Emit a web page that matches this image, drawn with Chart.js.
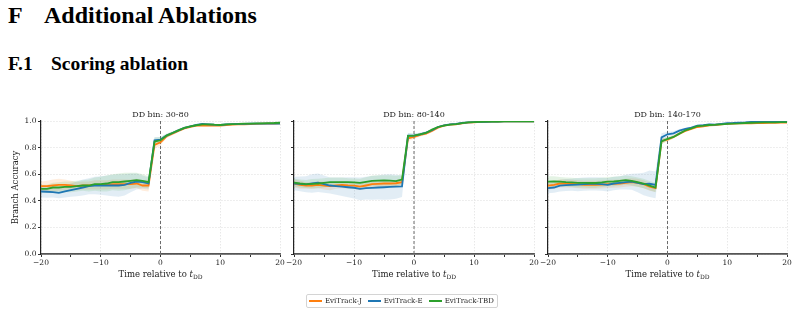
<!DOCTYPE html>
<html>
<head>
<meta charset="utf-8">
<script src="https://cdn.jsdelivr.net/npm/chart.js@4.4.1/dist/chart.umd.min.js"></script>
<style>
  body { margin: 0; width: 798px; height: 315px; background: #fff; position: relative; overflow: hidden; }
  .head { position: absolute; left: 8px; font-family: "Liberation Serif", serif; font-weight: bold; color: #000; white-space: pre; }
  #h1 { top: 3px; font-size: 24px; line-height: 24px; }
  #h2 { top: 54px; font-size: 19.5px; line-height: 19px; }
  canvas { position: absolute; }
  #legend { position: absolute; left: 306px; top: 294px; width: 192px; height: 14px; box-sizing: border-box;
            border: 1px solid #d4d4d4; border-radius: 2px; display: flex; align-items: center; padding-left: 2px;
            font-family: "DejaVu Serif", serif; font-size: 7px; color: #222; white-space: nowrap; }
  #legend .item { display: flex; align-items: center; margin-right: 6px; flex-shrink: 0; }
  #legend .swatch { width: 13px; height: 2px; margin-right: 3px; flex-shrink: 0; }
</style>
</head>
<body>
<div class="head" id="h1"><span>F</span><span style="position:absolute;left:36px">Additional Ablations</span></div>
<div class="head" id="h2"><span>F.1</span><span style="position:absolute;left:43px">Scoring ablation</span></div>

<canvas id="c1" width="290" height="185" style="left:0;top:100px"></canvas>
<canvas id="c2" width="264" height="185" style="left:280px;top:100px"></canvas>
<canvas id="c3" width="264" height="185" style="left:534px;top:100px"></canvas>

<div id="legend">
  <div class="item"><div class="swatch" style="background:#ff7f0e"></div>EviTrack-J</div>
  <div class="item"><div class="swatch" style="background:#1f77b4"></div>EviTrack-E</div>
  <div class="item"><div class="swatch" style="background:#2ca02c"></div>EviTrack-TBD</div>
</div>

<script>
// time steps relative to t_DD
var time = [-20,-19,-18,-17,-16,-15,-14,-13,-12,-11,-10,-9,-8,-7,-6,-5,-4,-3,-2,-1,0,
            1,2,3,4,5,6,7,8,9,10,11,12,13,14,15,16,17,18,19,20];

var binTitles = ['DD bin: 30-80', 'DD bin: 80-140', 'DD bin: 140-170'];
var seriesNames = ['EviTrack-J', 'EviTrack-E', 'EviTrack-TBD'];

// DD bin 30-80
var j1 = [0.51,0.51,0.515,0.52,0.52,0.515,0.51,0.515,0.515,0.52,0.52,0.52,0.525,0.525,0.525,0.525,0.53,0.515,0.515,
          0.82,0.84,0.885,0.905,0.925,0.945,0.955,0.965,0.965,0.965,0.965,0.965,0.97,0.972,0.975,0.975,0.977,0.978,0.98,0.98,0.98,0.982];
var e1 = [0.47,0.468,0.465,0.46,0.47,0.48,0.49,0.50,0.51,0.515,0.515,0.515,0.515,0.515,0.52,0.535,0.545,0.54,0.53,
          0.855,0.86,0.89,0.91,0.93,0.948,0.96,0.97,0.978,0.975,0.972,0.97,0.975,0.977,0.978,0.978,0.98,0.98,0.98,0.98,0.98,0.98];
var g1 = [0.49,0.49,0.50,0.50,0.505,0.505,0.51,0.515,0.515,0.525,0.525,0.53,0.54,0.54,0.545,0.55,0.555,0.55,0.54,
          0.845,0.855,0.89,0.91,0.93,0.948,0.96,0.968,0.975,0.975,0.972,0.97,0.975,0.977,0.978,0.98,0.98,0.982,0.982,0.984,0.985,0.987];
var sdJ1 = [0.035,0.04,0.045,0.045,0.04,0.035,0.03,0.03,0.03,0.035,0.035,0.035,0.035,0.035,0.035,0.035,0.035,0.04,0.045,
            0.03,0.025,0.015,0.012,0.01,0.008,0.007,0.006,0.006,0.006,0.005,0.005,0.005,0.005,0.004,0.004,0.004,0.004,0.004,0.004,0.004,0.004];
var sdE1 = [0.045,0.045,0.04,0.04,0.045,0.05,0.055,0.06,0.06,0.065,0.07,0.075,0.08,0.085,0.08,0.07,0.06,0.05,0.045,
            0.025,0.02,0.015,0.01,0.009,0.008,0.007,0.006,0.006,0.006,0.005,0.005,0.005,0.005,0.004,0.004,0.004,0.004,0.004,0.004,0.004,0.004];
var sdG1 = [0.03,0.03,0.035,0.04,0.04,0.04,0.04,0.04,0.045,0.05,0.055,0.06,0.06,0.065,0.065,0.06,0.055,0.05,0.045,
            0.03,0.025,0.015,0.012,0.01,0.008,0.007,0.006,0.006,0.006,0.005,0.005,0.005,0.005,0.004,0.004,0.004,0.004,0.004,0.004,0.004,0.004];

// DD bin 80-140
var j2 = [0.53,0.52,0.515,0.515,0.52,0.515,0.51,0.515,0.52,0.515,0.514,0.506,0.515,0.525,0.528,0.53,0.53,0.532,0.54,
          0.87,0.88,0.895,0.905,0.925,0.95,0.965,0.972,0.975,0.982,0.988,0.99,0.993,0.994,0.995,0.996,0.997,0.997,0.997,0.997,0.998,0.998];
var e2 = [0.53,0.527,0.524,0.53,0.536,0.525,0.515,0.51,0.506,0.502,0.498,0.49,0.495,0.497,0.5,0.502,0.504,0.506,0.508,
          0.89,0.89,0.9,0.912,0.93,0.955,0.968,0.975,0.978,0.985,0.99,0.992,0.995,0.993,0.995,0.996,0.997,0.997,0.998,0.998,0.998,0.998];
var g2 = [0.536,0.53,0.526,0.528,0.53,0.535,0.54,0.54,0.54,0.54,0.538,0.535,0.543,0.55,0.552,0.553,0.552,0.548,0.56,
          0.888,0.89,0.9,0.91,0.935,0.955,0.966,0.973,0.977,0.984,0.99,0.992,0.994,0.995,0.995,0.996,0.997,0.997,0.998,0.998,0.998,0.998];
var sdJ2 = [0.03,0.03,0.025,0.025,0.025,0.03,0.03,0.025,0.025,0.025,0.025,0.025,0.025,0.025,0.025,0.025,0.025,0.025,0.03,
            0.02,0.015,0.012,0.01,0.008,0.007,0.006,0.005,0.005,0.004,0.004,0.003,0.003,0.003,0.003,0.003,0.003,0.003,0.003,0.003,0.003,0.003];
var sdE2 = [0.05,0.055,0.06,0.07,0.07,0.065,0.06,0.065,0.07,0.075,0.08,0.085,0.085,0.09,0.09,0.095,0.095,0.09,0.08,
            0.02,0.015,0.012,0.01,0.008,0.007,0.006,0.005,0.005,0.004,0.004,0.003,0.003,0.003,0.003,0.003,0.003,0.003,0.003,0.003,0.003,0.003];
var sdG2 = [0.03,0.03,0.03,0.035,0.035,0.035,0.035,0.035,0.035,0.03,0.03,0.03,0.035,0.04,0.04,0.04,0.04,0.04,0.035,
            0.02,0.015,0.012,0.01,0.008,0.007,0.006,0.005,0.005,0.004,0.004,0.003,0.003,0.003,0.003,0.003,0.003,0.003,0.003,0.003,0.003,0.003];

// DD bin 140-170
var j3 = [0.514,0.52,0.53,0.53,0.528,0.525,0.52,0.52,0.52,0.522,0.526,0.528,0.53,0.535,0.54,0.535,0.525,0.506,0.496,
          0.85,0.86,0.88,0.905,0.925,0.94,0.955,0.96,0.968,0.97,0.975,0.978,0.98,0.982,0.983,0.983,0.985,0.985,0.986,0.987,0.988,0.988];
var e3 = [0.496,0.50,0.514,0.518,0.52,0.522,0.526,0.527,0.527,0.525,0.52,0.53,0.535,0.54,0.544,0.535,0.526,0.528,0.52,
          0.877,0.9,0.907,0.927,0.94,0.95,0.965,0.968,0.975,0.973,0.978,0.983,0.985,0.988,0.99,0.993,0.993,0.994,0.994,0.995,0.995,0.995];
var g3 = [0.544,0.545,0.544,0.54,0.538,0.535,0.535,0.534,0.534,0.538,0.544,0.545,0.55,0.556,0.55,0.54,0.53,0.514,0.5,
          0.846,0.865,0.88,0.905,0.93,0.945,0.962,0.965,0.97,0.972,0.975,0.978,0.98,0.982,0.985,0.987,0.988,0.99,0.99,0.99,0.991,0.992];
var sdJ3 = [0.03,0.03,0.03,0.03,0.03,0.03,0.03,0.03,0.03,0.03,0.03,0.03,0.03,0.03,0.03,0.03,0.03,0.03,0.03,
            0.02,0.015,0.012,0.01,0.008,0.007,0.006,0.006,0.005,0.005,0.005,0.004,0.004,0.004,0.004,0.004,0.004,0.004,0.004,0.004,0.004,0.004];
var sdE3 = [0.04,0.04,0.045,0.045,0.045,0.05,0.05,0.05,0.05,0.05,0.05,0.05,0.05,0.055,0.06,0.07,0.085,0.1,0.1,
            0.03,0.02,0.015,0.012,0.01,0.008,0.007,0.006,0.006,0.005,0.005,0.005,0.004,0.004,0.004,0.004,0.004,0.004,0.004,0.004,0.004,0.004];
var sdG3 = [0.04,0.04,0.035,0.035,0.035,0.035,0.035,0.035,0.035,0.035,0.035,0.035,0.035,0.035,0.035,0.035,0.035,0.035,0.035,
            0.02,0.015,0.012,0.01,0.008,0.007,0.006,0.006,0.005,0.005,0.005,0.004,0.004,0.004,0.004,0.004,0.004,0.004,0.004,0.004,0.004,0.004];

var lineColors = ['#ff7f0e', '#1f77b4', '#2ca02c'];
var bandColors = ['rgba(255,127,14,0.14)', 'rgba(31,119,180,0.13)', 'rgba(44,160,44,0.13)'];

var serif = '"DejaVu Serif", serif';

function fmtTick(v) {
    return v < 0 ? '\u2212' + Math.abs(v) : String(v);
}

// dashed t_DD marker, panel titles and axis titles
var decor = {
    id: 'decor',
    beforeDatasetsDraw: function(chart) {
        var ctx = chart.ctx, a = chart.chartArea;
        var x0 = chart.scales.x.getPixelForValue(0);
        ctx.save();
        ctx.strokeStyle = '#6b6b6b';
        ctx.lineWidth = 1;
        ctx.setLineDash([3, 2]);
        ctx.beginPath();
        ctx.moveTo(x0, a.top);
        ctx.lineTo(x0, a.bottom);
        ctx.stroke();
        ctx.restore();
    },
    afterDraw: function(chart, args, o) {
        var ctx = chart.ctx, a = chart.chartArea;
        var mid = (a.left + a.right) / 2;
        ctx.save();
        ctx.fillStyle = '#222';
        ctx.textAlign = 'center';
        ctx.textBaseline = 'alphabetic';
        ctx.font = '8px ' + serif;
        ctx.fillText(o.title, mid, a.top - 4);

        // x title: "Time relative to t_DD"
        var base = 176.5;
        ctx.font = '8.5px ' + serif;
        var w1 = ctx.measureText('Time relative to ').width;
        ctx.font = 'italic 8.5px ' + serif;
        var w2 = ctx.measureText('t').width;
        ctx.font = '6px ' + serif;
        var w3 = ctx.measureText('DD').width;
        var x = mid - (w1 + w2 + w3) / 2;
        ctx.textAlign = 'left';
        ctx.font = '8.5px ' + serif;
        ctx.fillText('Time relative to ', x, base);
        ctx.font = 'italic 8.5px ' + serif;
        ctx.fillText('t', x + w1, base);
        ctx.font = '6px ' + serif;
        ctx.fillText('DD', x + w1 + w2, base + 2);

        if (o.yTitle) {
            ctx.translate(16, (a.top + a.bottom) / 2);
            ctx.rotate(-Math.PI / 2);
            ctx.textAlign = 'center';
            ctx.textBaseline = 'middle';
            ctx.font = '8.5px ' + serif;
            ctx.fillText(o.yTitle, 0, 0);
        }
        ctx.restore();
    }
};

function makeChart(id, title, means, sds, yWidth, rightPad, showY) {
    var datasets = [];
    // bands first, drawn underneath
    means.forEach(function(m, j) {
        datasets.push({
            data: m.map(function(v, k) { return {x: time[k], y: v + sds[j][k]}; }),
            borderWidth: 0, pointRadius: 0, fill: '+1', backgroundColor: bandColors[j], order: 10 + (2 - j)
        });
        datasets.push({
            data: m.map(function(v, k) { return {x: time[k], y: v - sds[j][k]}; }),
            borderWidth: 0, pointRadius: 0, fill: false, order: 10 + (2 - j)
        });
    });
    means.forEach(function(m, j) {
        datasets.push({
            label: seriesNames[j],
            data: m.map(function(v, k) { return {x: time[k], y: v}; }),
            borderColor: lineColors[j], borderWidth: 1.8, pointRadius: 0, fill: false,
            tension: 0, order: 2 - j
        });
    });

    return new Chart(document.getElementById(id), {
        type: 'line',
        data: {datasets: datasets},
        options: {
            responsive: false,
            animation: false,
            devicePixelRatio: 1,
            layout: {padding: {top: 21, right: rightPad, left: 0, bottom: 0}},
            plugins: {
                legend: {display: false},
                tooltip: {enabled: false},
                decor: {title: title, yTitle: showY ? 'Branch Accuracy' : null}
            },
            scales: {
                x: {
                    type: 'linear', min: -20, max: 20,
                    afterFit: function(s) { s.height = 31; },
                    ticks: {
                        stepSize: 5, autoSkip: false, maxRotation: 0, padding: 1.5,
                        color: '#222', font: {family: serif, size: 7.5},
                        callback: function(v) { return v % 10 === 0 ? fmtTick(v) : ''; }
                    },
                    grid: {
                        color: function(c) { return (c.tick && c.tick.value % 10 === 0) ? '#e2e2e2' : 'rgba(0,0,0,0)'; },
                        lineWidth: 0.8, tickColor: '#333', tickLength: 3, tickWidth: 1
                    },
                    border: {color: '#555', width: 1.8, dash: [1.5, 1.5]}
                },
                y: {
                    min: 0, max: 1,
                    afterFit: function(s) { s.width = yWidth; },
                    ticks: {
                        stepSize: 0.2, padding: 1.5, color: '#222', font: {family: serif, size: 7.5},
                        callback: function(v) { return showY ? v.toFixed(1) : ''; }
                    },
                    grid: {color: '#e2e2e2', lineWidth: 0.8, tickColor: '#333', tickLength: 3, tickWidth: 1},
                    border: {color: '#222', width: 1.2, dash: [1.5, 1.5]}
                }
            }
        },
        plugins: [decor]
    });
}

makeChart('c1', binTitles[0], [j1, e1, g1], [sdJ1, sdE1, sdG1], 41, 10, true);
makeChart('c2', binTitles[1], [j2, e2, g2], [sdJ2, sdE2, sdG2], 14, 10, false);
makeChart('c3', binTitles[2], [j3, e3, g3], [sdJ3, sdE3, sdG3], 14, 11, false);
</script>
</body>
</html>
